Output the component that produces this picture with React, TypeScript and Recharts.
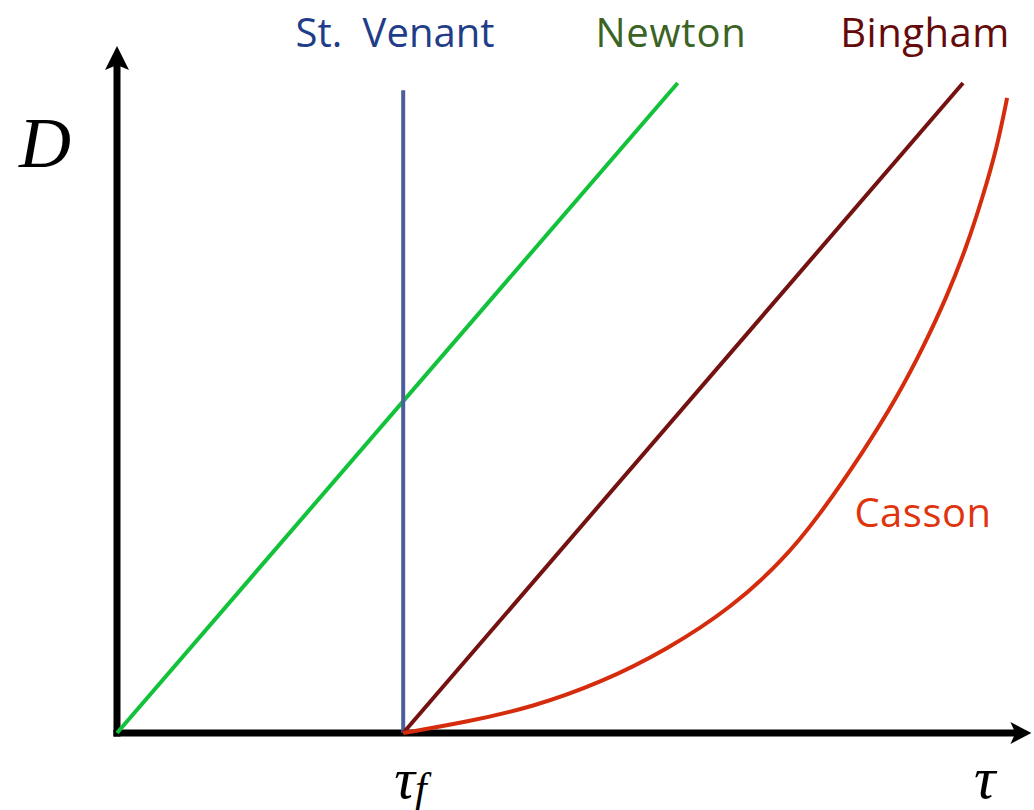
import React from 'react';
import { LineChart, Line, XAxis, YAxis, ReferenceLine, ReferenceDot } from 'recharts';

// tau = shear stress, D = shear rate; both in arbitrary units 0..100
const TAU_F = 31.8;

const newtonData = [
  { tau: 0, d: 0 },
  { tau: 62.3, d: 100 },
];

const binghamData = [
  { tau: 31.8, d: 0 },
  { tau: 94.0, d: 100 },
];

const stVenantData = [
  { tau: 31.8, d: 0 },
  { tau: 31.8, d: 98.9 },
];

const cassonData = [
  { tau: 31.8, d: 0 },
  { tau: 38.9, d: 1.7 },
  { tau: 46.2, d: 4.0 },
  { tau: 53.7, d: 7.7 },
  { tau: 61.1, d: 12.8 },
  { tau: 68.4, d: 19.4 },
  { tau: 74.0, d: 26.6 },
  { tau: 77.8, d: 33.0 },
  { tau: 82.9, d: 43.2 },
  { tau: 86.7, d: 51.7 },
  { tau: 89.6, d: 59.4 },
  { tau: 92.2, d: 67.1 },
  { tau: 94.4, d: 74.8 },
  { tau: 96.2, d: 82.5 },
  { tau: 97.8, d: 90.2 },
  { tau: 98.9, d: 97.7 },
];

const xTicks = [TAU_F, 97.3];
const yTicks = [90.8];

const X_TIP = 101.6;
const Y_TIP = 105.7;

const labelFont = '"Open Sans", "Noto Sans", sans-serif';
const mathFont = '"Liberation Serif", "DejaVu Serif", serif';

const XTick = (props: any) => {
  const { x, y, payload } = props;
  if (payload.value === TAU_F) {
    return (
      <text x={x - 9} y={y + 57} fontFamily={mathFont} fontStyle="italic" fontSize={58} fill="#000">
        τ<tspan fontSize={42} dy={4}>f</tspan>
      </text>
    );
  }
  return (
    <text x={x - 8} y={y + 57} fontFamily={mathFont} fontStyle="italic" fontSize={60} fill="#000" textAnchor="middle">
      τ
    </text>
  );
};

const YTick = (props: any) => {
  const { y } = props;
  return (
    <text x={19} y={y + 24} fontFamily={mathFont} fontStyle="italic" fontSize={72} fill="#000">
      D
    </text>
  );
};

const RightArrow = (props: any) => {
  const { cx, cy } = props;
  return <polygon points={`${cx},${cy} ${cx - 21},${cy - 11} ${cx - 16},${cy} ${cx - 21},${cy + 11}`} fill="#000" />;
};

const UpArrow = (props: any) => {
  const { cx, cy } = props;
  return <polygon points={`${cx},${cy} ${cx - 12},${cy + 24} ${cx},${cy + 19} ${cx + 12},${cy + 24}`} fill="#000" />;
};

const App = () => {
  return (
    <div style={{ position: 'absolute', left: 0, top: 0, width: 1034, height: 810, background: '#fff' }}>
      <LineChart width={1034} height={810} margin={{ top: 83, right: 17, bottom: 0, left: 0 }}>
        <XAxis
          type="number"
          dataKey="tau"
          domain={[0, 100]}
          ticks={xTicks}
          tick={<XTick />}
          axisLine={false}
          tickLine={false}
          height={77}
          interval={0}
        />
        <YAxis
          type="number"
          dataKey="d"
          domain={[0, 100]}
          ticks={yTicks}
          tick={<YTick />}
          axisLine={false}
          tickLine={false}
          width={117}
          interval={0}
        />
        <ReferenceLine
          segment={[{ x: 0, y: 0 }, { x: X_TIP - 2, y: 0 }]}
          stroke="#000"
          strokeWidth={7}
          strokeLinecap="square"
          ifOverflow="visible"
        />
        <ReferenceLine
          segment={[{ x: 0, y: 0 }, { x: 0, y: Y_TIP - 2 }]}
          stroke="#000"
          strokeWidth={7}
          strokeLinecap="square"
          ifOverflow="visible"
        />
        <ReferenceDot x={X_TIP} y={0} ifOverflow="visible" shape={<RightArrow />} />
        <ReferenceDot x={0} y={Y_TIP} ifOverflow="visible" shape={<UpArrow />} />

        <Line data={newtonData} dataKey="d" stroke="#12c23a" strokeWidth={4} dot={false} isAnimationActive={false} />
        <Line data={stVenantData} dataKey="d" stroke="#4a5f9c" strokeWidth={4} dot={false} isAnimationActive={false} />
        <Line data={binghamData} dataKey="d" stroke="#741212" strokeWidth={4} dot={false} isAnimationActive={false} />
        <Line data={cassonData} dataKey="d" type="basis" stroke="#d42c0c" strokeWidth={4} dot={false} isAnimationActive={false} />

        <text x={395} y={47} textAnchor="middle" fontFamily={labelFont} fontSize={40} wordSpacing={10} fill="#1f3d88">St. Venant</text>
        <text x={671} y={47} textAnchor="middle" fontFamily={labelFont} fontSize={40} letterSpacing={0.8} fill="#3b6324">Newton</text>
        <text x={925} y={47} textAnchor="middle" fontFamily={labelFont} fontSize={40} letterSpacing={0.5} fill="#640a0a">Bingham</text>
        <text x={923} y={527} textAnchor="middle" fontFamily={labelFont} fontSize={40} letterSpacing={0.5} fill="#e0340e">Casson</text>
      </LineChart>
    </div>
  );
};

export default App;
